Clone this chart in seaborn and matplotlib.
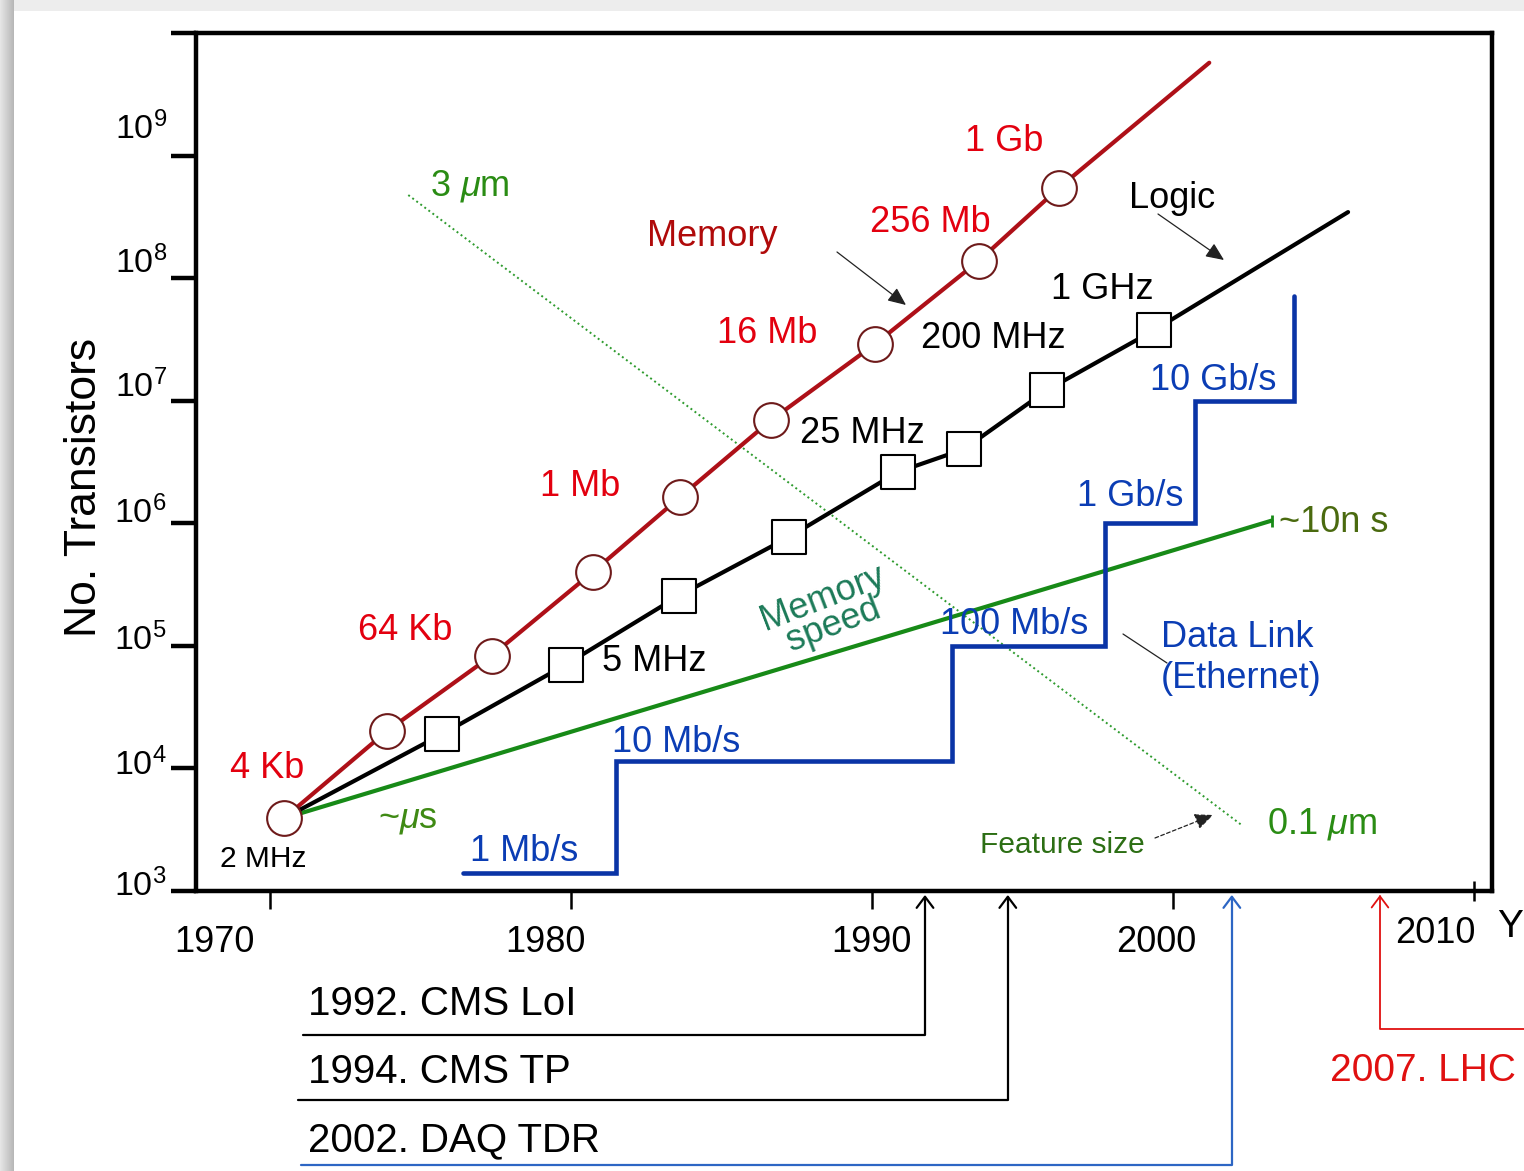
import numpy as np
import pandas as pd
import seaborn as sns
import matplotlib.pyplot as plt
from matplotlib.ticker import NullLocator
from matplotlib.transforms import ScaledTranslation

# ---- data ----
# memory chips (red circles); the last value is only the end of the trend line
mem_year = [1970.47, 1973.88, 1977.37, 1980.73, 1983.62, 1986.65, 1990.10, 1993.55, 1996.22, 2001.20]
mem_count = [3.9e3, 2.0e4, 8.3e4, 4.0e5, 1.63e6, 6.95e6, 2.9e7, 1.39e8, 5.5e8, 5.75e9]

# logic (black squares); first value = common origin, last = end of trend line
logic_year = [1970.47, 1975.73, 1979.83, 1983.59, 1987.24, 1990.86, 1993.06, 1995.81, 1999.38, 2005.81]
logic_count = [3.9e3, 1.9e4, 7.0e4, 2.56e5, 7.7e5, 2.62e6, 4.03e6, 1.22e7, 3.78e7, 3.47e8]

# memory speed (~us -> ~10 ns)
speed_year = [1970.47, 2003.27]
speed_count = [3.9e3, 1.05e6]

# feature size (3 um -> 0.1 um)
feature_year = [1974.60, 2002.32]
feature_count = [4.78e8, 3.37e3]

# data link (Ethernet) steps
link_year = [1976.43, 1981.50, 1992.66, 1997.74, 2000.74, 2004.0]
link_count = [1.4e3, 1.14e4, 1.0e5, 1.0e6, 1.0e7, 7.14e7]

# milestones under the time axis
event_year = [1991.76, 1994.51, 2001.95, 2006.87]
event_label = ['1992. CMS LoI', '1994. CMS TP', '2002. DAQ TDR', '2007. LHC']

year_ticks = [1970, 1980, 1990, 2000, 2010]
decades = list(range(3, 11))

# ---- style ----
sns.set_theme(style='white')
plt.rcParams['font.family'] = ['Liberation Sans', 'DejaVu Sans']
plt.rcParams['mathtext.fontset'] = 'custom'
plt.rcParams['mathtext.rm'] = 'Liberation Sans'
plt.rcParams['mathtext.it'] = 'Liberation Sans:italic'

RED = '#e3000f'
MEM_LINE = '#ae1018'
GREEN = '#178a17'
BLUE = '#0a34a6'
BLUE_TXT = '#0b3db4'

W, H = 1524, 1171
fig = plt.figure(figsize=(W / 100, H / 100), dpi=100)
fig.patch.set_facecolor('white')

# slide shadow along the top and left edge
top = np.ones((11, W, 3)) * 0.93
fig.figimage(top, xo=0, yo=H - 11, zorder=0)
left = np.ones((H, 14, 3)) * np.linspace(0.90, 0.72, 14)[None, :, None]
fig.figimage(left, xo=0, yo=0, zorder=0)


def px(x, y):
    return x / W, 1 - y / H


ax = fig.add_axes([196 / W, 1 - 890.7 / H, 1296 / W, 857.4 / H])
ax.set_yscale('log')

sns.lineplot(x=mem_year, y=mem_count, ax=ax, color=MEM_LINE, lw=3.0,
             estimator=None, sort=False, zorder=3)
sns.lineplot(x=logic_year, y=logic_count, ax=ax, color='black', lw=3.0,
             estimator=None, sort=False, zorder=3)
sns.lineplot(x=speed_year, y=speed_count, ax=ax, color=GREEN, lw=3.0,
             estimator=None, sort=False, zorder=2)
ax.plot(speed_year[-1:], speed_count[-1:], marker='|', ms=8, mew=2, color=GREEN)
sns.lineplot(x=feature_year, y=feature_count, ax=ax, color='#2e9b2e', lw=1.4,
             linestyle=(0, (1, 1.6)), estimator=None, sort=False, zorder=1)
sns.lineplot(x=link_year, y=link_count, ax=ax, color=BLUE, lw=3.3,
             drawstyle='steps-post', solid_joinstyle='miter',
             estimator=None, sort=False, zorder=2)

sns.scatterplot(x=mem_year[:-1], y=mem_count[:-1], ax=ax, marker='o', s=625,
                color='white', edgecolor='#6e1a1a', linewidth=1.5, zorder=5)
sns.scatterplot(x=logic_year[1:-1], y=logic_count[1:-1], ax=ax, marker='s', s=576,
                color='white', edgecolor='black', linewidth=1.5, zorder=4)

# ---- axes ----
ax.set_xlim(1967.55, 2010.59)
ax.set_ylim(1e3, 1e10)
ax.set_xticks(year_ticks, [str(y) for y in year_ticks])
ax.set_yticks([10.0 ** k for k in decades],
              ['$10^{%d}$' % k for k in decades[:-1]] + [''])
ax.yaxis.set_minor_locator(NullLocator())
ax.xaxis.set_minor_locator(NullLocator())
ax.tick_params(axis='y', direction='out', length=18, width=3.2, pad=3,
               labelsize=24.5, colors='black', left=True)
ax.tick_params(axis='x', direction='out', length=13, width=1.8, pad=12,
               labelsize=26, colors='black', bottom=True)
for sp in ax.spines.values():
    sp.set_visible(True)
    sp.set_color('black')
    sp.set_linewidth(3.2)
ax.grid(False)
ax.set_xlabel('')
ax.set_ylabel('No. Transistors', fontsize=32, color='black')
ax.yaxis.set_label_coords(-0.070, 0.47)

# the 2010 tick crosses the axis line
last_tick = ax.xaxis.get_major_ticks()[-1]
last_tick.tick1line.set_marker('|')
last_tick.tick1line.set_markersize(14)

# hand-drawn original: tick labels sit off their ticks
xlab_dx = [-55, -25, -1, -17, -39]
xlab_dy = [0, 0, 0, 0, 9]
for lbl, dx, dy in zip(ax.get_xticklabels(), xlab_dx, xlab_dy):
    lbl.set_transform(lbl.get_transform() + ScaledTranslation(dx / 100, dy / 100, fig.dpi_scale_trans))
ylab_dy = [8.5, 7, 9.6, 14, 17.6, 18.5, 30, 0]
for lbl, dy in zip(ax.get_yticklabels(), ylab_dy):
    lbl.set_transform(lbl.get_transform() + ScaledTranslation(0, dy / 100, fig.dpi_scale_trans))


# ---- labels ----
def label(x, y, s, color, size=26, **kw):
    fig.text(*px(x, y), s, color=color, fontsize=size, va='baseline', ha='left', **kw)


label(430, 195, '3 $\\mu$m', '#2a8c14')
label(647, 246, 'Memory', '#b00a0a')
label(965, 151, '1 Gb', RED)
label(870, 232, '256 Mb', RED)
label(717, 343, '16 Mb', RED)
label(540, 496, '1 Mb', RED)
label(358, 640, '64 Kb', RED)
label(230, 778, '4 Kb', RED)
label(220, 867, '2 MHz', 'black', 21.5)
label(602, 671, '5 MHz', 'black')
label(800, 443, '25 MHz', 'black')
label(921, 348, '200 MHz', 'black')
label(1051, 299, '1 GHz', 'black')
label(1129, 208, 'Logic', 'black')
label(378, 827, '~$\\mu$s', '#3f8a14')
label(470, 861, '1 Mb/s', BLUE_TXT)
label(612, 752, '10 Mb/s', BLUE_TXT)
label(940, 634, '100 Mb/s', BLUE_TXT)
label(1077, 506, '1 Gb/s', BLUE_TXT)
label(1150, 390, '10 Gb/s', BLUE_TXT)
label(1279, 532, '~10n s', '#4a6a0f')
label(1161, 647, 'Data Link', BLUE_TXT)
label(1161, 688, '(Ethernet)', BLUE_TXT)
label(980, 853, 'Feature size', '#2c6e14', 21.5)
label(1267, 833, '0.1 $\\mu$m', '#2a8c14')
fig.text(*px(828, 612), 'Memory\nspeed', color='#1c7a58', fontsize=26,
         rotation=21, ha='center', va='center', multialignment='center',
         linespacing=0.78)
label(1497, 937, 'Y', 'black', 28)


def pointer(x0, y0, x1, y1, head=True, ls='-'):
    style = '-|>,head_length=0.5,head_width=0.22' if head else '-'
    ax.annotate('', xy=px(x1, y1), xycoords='figure fraction',
                xytext=px(x0, y0), textcoords='figure fraction',
                arrowprops=dict(arrowstyle=style, color='#222222', lw=0.9,
                                linestyle=ls, mutation_scale=22,
                                shrinkA=0, shrinkB=0),
                annotation_clip=False)


pointer(837, 252, 906, 305)
pointer(1158, 214, 1224, 260)
pointer(1155, 838, 1213, 815, ls=(0, (3, 2)))
pointer(1123, 634, 1167, 663, head=False)

# ---- milestones ----
event_color = ['black', 'black', '#2d66c4', '#e01010']
event_lw = [1.6, 1.6, 1.6, 1.3]
line_start = [(303, 1035), (298, 1100), (301, 1165), (1540, 1029)]
text_pos = [(308, 1015), (308, 1083), (308, 1151), (1330, 1081)]
text_size = [29, 29, 29, 28]
for yr, txt, col, lw, (lx, ly), (tx, ty), sz in zip(event_year, event_label, event_color,
                                                   event_lw, line_start, text_pos, text_size):
    ax.annotate('', xy=(yr, 1e3), xycoords='data',
                xytext=px(lx, ly), textcoords='figure fraction',
                arrowprops=dict(arrowstyle='->,head_length=0.4,head_width=0.3',
                                connectionstyle='angle,angleA=0,angleB=90,rad=0',
                                color=col, lw=lw, mutation_scale=20,
                                shrinkA=0, shrinkB=3),
                annotation_clip=False)
    label(tx, ty, txt, 'black' if col == '#2d66c4' else col, sz)

fig.savefig('out.png', dpi=100)
